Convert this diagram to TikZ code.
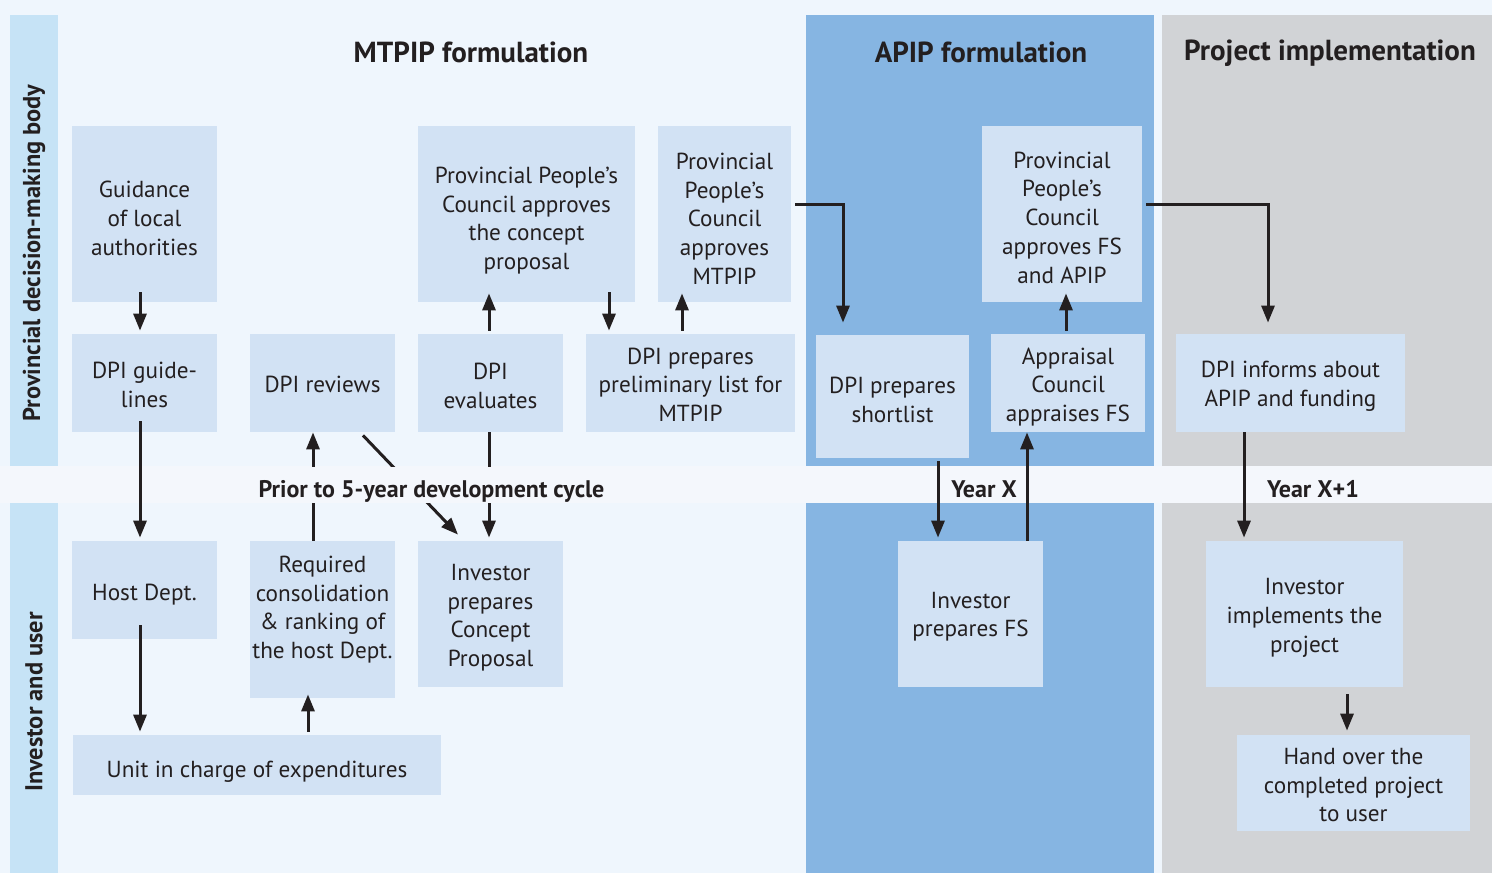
\documentclass[tikz,border=0pt]{standalone}
\usepackage{fontspec}
\setmainfont{PT Sans}
\usetikzlibrary{calc,arrows.meta}
\definecolor{pagebg}{RGB}{239,246,253}
\definecolor{bandc}{RGB}{244,247,252}
\definecolor{stripc}{RGB}{198,227,246}
\definecolor{boxc}{RGB}{210,226,244}
\definecolor{apipc}{RGB}{134,181,226}
\definecolor{grayc}{RGB}{209,211,214}
\definecolor{txt}{RGB}{35,31,32}
\newcommand\mystrut[1]{\rule{0pt}{#1pt}}
\begin{document}
\begin{tikzpicture}[x=0.5pt,y=-0.5pt,
  box/.style={fill=boxc, inner sep=0pt, align=center, text=txt,
    font=\fontsize{11.6}{14.4}\selectfont},
  btext/.style={inner sep=0pt, align=center, text=txt,
    font=\fontsize{11.6}{14.4}\selectfont},
  coltitle/.style={inner sep=0pt, text=txt, font=\fontsize{14.5}{17}\selectfont\bfseries},
  sidelab/.style={inner sep=0pt, text=txt, rotate=90, font=\fontsize{12.2}{14}\selectfont\bfseries},
  bandlab/.style={inner sep=0pt, text=txt, font=\fontsize{12}{14}\selectfont\bfseries},
  arr/.style={draw=txt, line width=1.5pt, -{Triangle[length=8.5pt,width=6.5pt]}},
  ]
\useasboundingbox (0,0) rectangle (1492,873);
% backgrounds
\fill[pagebg] (0,0) rectangle (1492,873);
\fill[bandc] (0,466) rectangle (1492,503);
\fill[stripc] (10,15) rectangle (58,466);
\fill[stripc] (10,503) rectangle (58,873);
\fill[apipc] (806,15) rectangle (1154,466);
\fill[apipc] (806,503) rectangle (1154,873);
\fill[grayc] (1162,15) rectangle (1492,466);
\fill[grayc] (1162,503) rectangle (1492,873);

% titles
\node[coltitle] (t1) at (471,52) {MTPIP formulation};
\node[coltitle] (t2) at (981,52) {APIP formulation};
\node[coltitle] (t3) at (1330,53) {Project implementation};
\node[sidelab] (s1) at (34,253) {Provincial decision-making body};
\node[sidelab] (s2) at (34,702) {Investor and user};

% boxes
\node[box, minimum width=72.5pt, minimum height=88pt] (guid) at (144.5,214) {\mystrut{12.8}Guidance\\of local\\authorities};
\node[box, minimum width=72.5pt, minimum height=49pt] (dpig) at (144.5,383) {\mystrut{9.8}DPI guide-\\lines};
\node[box, minimum width=72.5pt, minimum height=49pt] (rev) at (322.5,383) {\mystrut{9.8}DPI reviews};
\node[box, minimum width=72.5pt, minimum height=49pt] (eval) at (490.5,383) {\mystrut{10.8}DPI\\evaluates};
\node[box, minimum width=108.5pt, minimum height=88pt] (ppc1) at (526.5,214) {\mystrut{14.8}Provincial People’s\\Council approves\\the concept\\proposal};
\node[box, minimum width=66.5pt, minimum height=88pt] (ppc2) at (724.5,214) {\mystrut{12.8}Provincial\\People’s\\Council\\approves\\MTPIP};
\node[box, minimum width=104.5pt, minimum height=49pt] (prel) at (690.5,383) {\mystrut{9.8}DPI prepares\\preliminary list for\\MTPIP};
\node[box, minimum width=76.5pt, minimum height=61.5pt] (short) at (892.5,396.5) {\mystrut{11.3}DPI prepares\\shortlist};
\node[box, minimum width=77pt, minimum height=49pt] (appr) at (1068,383) {\mystrut{12.3}Appraisal\\Council\\appraises FS};
\node[box, minimum width=80pt, minimum height=88pt] (ppc3) at (1062,214) {\mystrut{11.8}Provincial\\People’s\\Council\\approves FS\\and APIP};
\node[box, minimum width=114.5pt, minimum height=49pt] (inform) at (1290.5,383) {\mystrut{11.8}DPI informs about\\APIP and funding};
\node[box, minimum width=72.5pt, minimum height=49pt] (host) at (144.5,590) {\mystrut{12.8}Host Dept.};
\node[box, minimum width=72.5pt, minimum height=78.5pt] (req) at (322.5,619.5) {};
\node[btext] (reqt) at (322.5,607.5) {\mystrut{10.3}Required\\consolidation\\\& ranking of\\the host Dept.};
\node[box, minimum width=72.5pt, minimum height=73pt] (inv) at (490.5,614) {\mystrut{11.8}Investor\\prepares\\Concept\\Proposal};
\node[box, minimum width=184pt, minimum height=30pt] (unit) at (257,765) {\mystrut{14.8}Unit in charge of expenditures};
\node[box, minimum width=72.5pt, minimum height=73pt] (invfs) at (970.5,614) {\mystrut{10.8}Investor\\prepares FS};
\node[box, minimum width=98.5pt, minimum height=73pt] (impl) at (1304.5,614) {\mystrut{11.8}Investor\\implements the\\project};
\node[box, minimum width=116.5pt, minimum height=48pt] (hand) at (1353.5,783) {\mystrut{10.3}Hand over the\\completed project\\to user};

% connectors
\draw[arr] ($(guid.south)+(-4.5,-10)$) -- ($(dpig.north)+(-4.5,-3)$);
\draw[arr] ($(dpig.south)+(-4.5,-11)$) -- ($(host.north)+(-4.5,-3)$);
\draw[arr] ($(host.south)+(-4.5,-14)$) -- ($(host.south |- unit.north)+(-4.5,-3)$);
\draw[arr] ($(req.south |- unit.north)+(-14.5,-3)$) -- ($(req.south)+(-14.5,-4)$);
\draw[arr] ($(req.north)+(-9.5,0)$) -- ($(rev.south)+(-9.5,0)$);
\draw[arr] ($(rev.south)+(40.5,3)$) -- ($(inv.north)+(-32.5,-6)$);
\draw[arr] ($(eval.south)+(-1.5,0)$) -- ($(inv.north)+(-1.5,-3)$);
\draw[arr] ($(eval.north)+(-1.5,-3)$) -- ($(eval.north |- ppc1.south)+(-1.5,-9)$);
\draw[arr] ($(ppc1.south)+(82.5,-10)$) -- ($(prel.north)+(-81.5,-3)$);
\draw[arr] ($(prel.north)+(-8.5,-3)$) -- ($(ppc2.south)+(-42.5,-9)$);
\draw[arr] ($(ppc2.east)+(4,-10)$) -| ($(short.north)+(-49.5,-12)$);
\draw[arr] ($(short.south)+(45.5,3)$) -- ($(invfs.north)+(-32.5,-3)$);
\draw[arr] ($(invfs.north)+(56.5,0)$) -- ($(appr.south)+(-41,0)$);
\draw[arr] ($(appr.north)+(-2,-3)$) -- ($(ppc3.south)+(4,-9)$);
\draw[arr] ($(ppc3.east)+(4,-10)$) -| ($(inform.north)+(-22.5,-11)$);
\draw[arr] ($(inform.south)+(-46.5,0)$) -- ($(impl.north)+(-60.5,-3)$);
\draw[arr] ($(impl.south)+(42.5,7)$) -- ($(hand.north)+(-6.5,-4)$);

% band labels
\node[bandlab, fill=bandc, inner xsep=3pt, minimum height=18pt, text height=12pt, text depth=0pt] (prior) at (431.5,485) {Prior to 5-year development cycle};
\node[bandlab] (yx) at (984,489) {Year X};
\node[bandlab] (yx1) at (1313,489) {Year X+1};
\end{tikzpicture}
\end{document}
